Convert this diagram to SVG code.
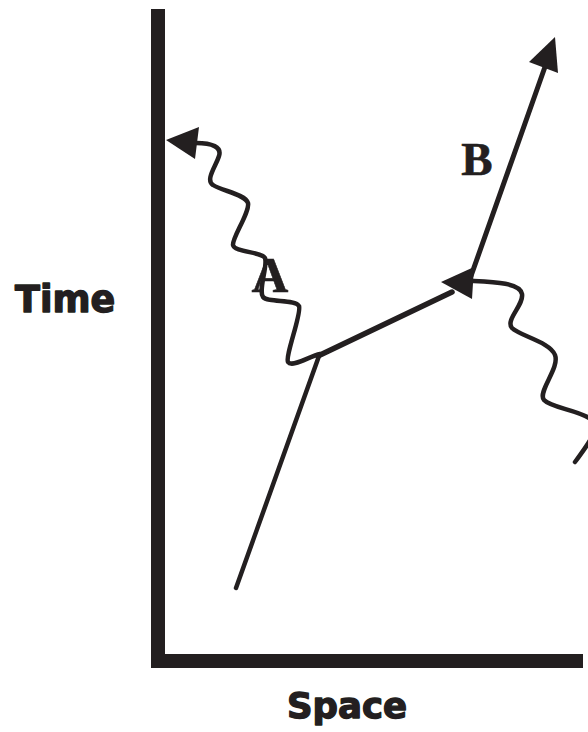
<svg xmlns="http://www.w3.org/2000/svg" width="588" height="732" viewBox="0 0 588 732">
<style>
.ink{fill:none;stroke:#231f20;stroke-linecap:round;stroke-linejoin:round}
.head{fill:#231f20;stroke:none}
.axis{fill:none;stroke:#231f20;stroke-width:14;stroke-linejoin:miter;stroke-linecap:butt}
.lab{font-family:"DejaVu Sans",sans-serif;font-weight:bold;fill:#231f20;stroke:#231f20;stroke-width:1.4;stroke-linejoin:round}
.ser{font-family:"Liberation Serif",serif;font-weight:bold;fill:#231f20;stroke:#231f20;stroke-width:0.6}
</style>
<rect width="588" height="732" fill="#ffffff"/>
<g id="axes">
<path class="axis" d="M158,9 V661 H583"/>
</g>
<g id="labels">
<text class="lab" x="15" y="312" font-size="36.5">Time</text>
<text class="lab" x="347" y="718" font-size="35.5" text-anchor="middle">Space</text>
</g>
<g id="connectors">
<path class="ink" stroke-width="4.5" d="M236,588 L319,356"/>
<path class="ink" stroke-width="5.5" d="M318,356 L452,292"/>
<polygon class="head" points="441,282 474,267 472,299"/>
<path class="ink" stroke-width="5" d="M471,276 L546,64"/>
<polygon class="head" points="555,37 529,62 558,73"/>
<path class="ink" stroke-width="4.5" d="M196,143 C212,143 222,147 219,156 C216,166 205,180 213,185 C222,191 245,194 248,203 C250,212 232,238 233,245 C234,252 262,252 265,258 C268,266 258,290 263,297 C268,303 295,299 299,306 C302,313 285,356 288,362 C292,368 310,356 320,354"/>
<polygon class="head" points="166,140 199,127 195,159"/>
<path class="ink" stroke-width="4.5" d="M473,281 C495,282 520,283 522,294 C524,305 505,320 512,328 C520,336 550,342 555,355 C560,368 537,392 544,400 C551,408 580,410 592,420 C600,428 590,442 575,462"/>
</g>
<g id="node-A">
<text class="ser" x="270" y="292" font-size="51" text-anchor="middle">A</text>
</g>
<g id="node-B">
<text class="ser" x="477" y="175" font-size="47" text-anchor="middle">B</text>
</g>
</svg>
